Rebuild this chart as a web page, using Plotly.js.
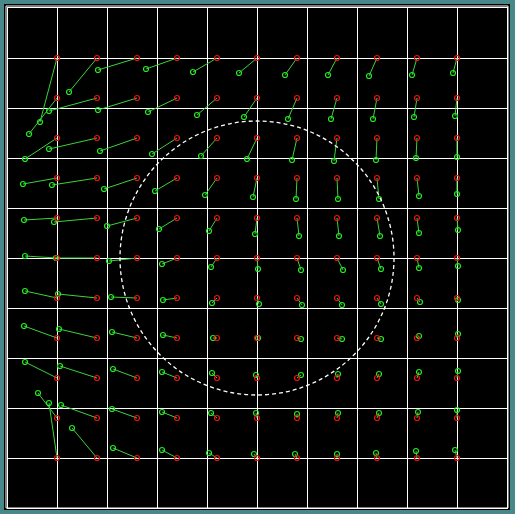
<!DOCTYPE html>
<html>
<head>
<meta charset="utf-8">
<script src="https://cdn.plot.ly/plotly-3.0.1.min.js"></script>
<style>
html,body{margin:0;padding:0;background:#488888;}
#chart{width:515px;height:514px;}
</style>
</head>
<body>
<div id="chart"></div>
<script>
// Grid of original points (red)
const gridX = [-1, -0.8, -0.6, -0.4, -0.2, 0, 0.2, 0.4, 0.6, 0.8, 1];
const gridY = [1, 0.8, 0.6, 0.4, 0.2, 0, -0.2, -0.4, -0.6, -0.8, -1];

// Displaced points (green), one row per gridY value, one column per gridX value
const dispX = [
  [-1.085, -0.94, -0.795, -0.555, -0.32, -0.09, 0.14, 0.355, 0.56, 0.775, 0.98],
  [-1.14, -1.04, -0.795, -0.545, -0.30, -0.065, 0.155, 0.37, 0.58, 0.785, 0.99],
  [-1.16, -1.04, -0.785, -0.525, -0.28, -0.05, 0.175, 0.385, 0.595, 0.795, 1.0],
  [-1.17, -1.025, -0.765, -0.51, -0.26, -0.02, 0.195, 0.405, 0.61, 0.81, 1.0],
  [-1.165, -1.015, -0.75, -0.49, -0.24, -0.01, 0.21, 0.41, 0.615, 0.81, 1.005],
  [-1.16, -1.005, -0.74, -0.475, -0.23, 0.005, 0.22, 0.43, 0.62, 0.81, 1.005],
  [-1.16, -0.995, -0.73, -0.47, -0.225, 0.01, 0.225, 0.425, 0.62, 0.815, 1.005],
  [-1.165, -0.99, -0.725, -0.47, -0.22, 0.005, 0.22, 0.425, 0.62, 0.81, 1.005],
  [-1.16, -0.985, -0.72, -0.475, -0.225, -0.005, 0.22, 0.405, 0.61, 0.81, 1.005],
  [-1.095, -0.98, -0.725, -0.475, -0.23, -0.005, 0.2, 0.405, 0.61, 0.805, 1.0],
  [-1.04, -0.925, -0.72, -0.475, -0.24, -0.015, 0.19, 0.4, 0.595, 0.795, 0.99]
];
const dispY = [
  [0.68, 0.83, 0.94, 0.945, 0.93, 0.925, 0.915, 0.915, 0.91, 0.915, 0.925],
  [0.62, 0.735, 0.74, 0.73, 0.715, 0.705, 0.695, 0.695, 0.695, 0.705, 0.71],
  [0.495, 0.545, 0.535, 0.52, 0.51, 0.495, 0.49, 0.485, 0.49, 0.5, 0.505],
  [0.37, 0.365, 0.345, 0.335, 0.315, 0.305, 0.295, 0.295, 0.295, 0.31, 0.32],
  [0.19, 0.18, 0.16, 0.145, 0.135, 0.12, 0.11, 0.11, 0.11, 0.125, 0.14],
  [0.01, 0.0, -0.015, -0.03, -0.045, -0.055, -0.06, -0.06, -0.055, -0.05, -0.04],
  [-0.165, -0.18, -0.195, -0.21, -0.225, -0.23, -0.235, -0.235, -0.23, -0.22, -0.21],
  [-0.34, -0.355, -0.37, -0.385, -0.4, -0.4, -0.405, -0.405, -0.405, -0.39, -0.38],
  [-0.52, -0.54, -0.555, -0.57, -0.575, -0.585, -0.585, -0.58, -0.58, -0.57, -0.565],
  [-0.675, -0.735, -0.755, -0.77, -0.775, -0.775, -0.78, -0.775, -0.775, -0.77, -0.76],
  [-0.725, -0.85, -0.95, -0.96, -0.975, -0.98, -0.98, -0.98, -0.975, -0.965, -0.96]
];
const circleRadius = 0.685;

const redXs = [], redYs = [], grnXs = [], grnYs = [], lnX = [], lnY = [];
for (let j = 0; j < gridY.length; j++) {
  for (let i = 0; i < gridX.length; i++) {
    redXs.push(gridX[i]); redYs.push(gridY[j]);
    grnXs.push(dispX[j][i]); grnYs.push(dispY[j][i]);
    lnX.push(gridX[i], dispX[j][i], null);
    lnY.push(gridY[j], dispY[j][i], null);
  }
}

const traces = [
  {x: lnX, y: lnY, mode: 'lines', type: 'scatter', line: {color: '#3ad33a', width: 1}, hoverinfo: 'skip'},
  {x: grnXs, y: grnYs, mode: 'markers', type: 'scatter',
   marker: {symbol: 'circle-open', size: 5, color: '#22ee22', line: {width: 1.2, color: '#22ee22'}}},
  {x: redXs, y: redYs, mode: 'markers', type: 'scatter',
   marker: {symbol: 'circle-open', size: 5, color: '#ee1111', line: {width: 1.2, color: '#ee1111'}}}
];

const axisCommon = {
  showgrid: true, gridcolor: '#ffffff', gridwidth: 1,
  zeroline: false, showticklabels: false, ticks: '',
  showline: true, linecolor: '#ffffff', linewidth: 1, mirror: true,
  dtick: 0.25, tick0: 0
};

const layout = {
  width: 515, height: 514,
  margin: {l: 8, r: 8, t: 8, b: 6, pad: 0},
  paper_bgcolor: '#488888',
  plot_bgcolor: '#000000',
  showlegend: false,
  xaxis: Object.assign({}, axisCommon, {range: [-1.245, 1.25]}),
  yaxis: Object.assign({}, axisCommon, {range: [-1.25, 1.25]}),
  shapes: [
    {type: 'rect', xref: 'paper', yref: 'paper', x0: -0.008, x1: 1.006, y0: -0.004, y1: 1.008,
     fillcolor: '#000000', line: {width: 0}, layer: 'below'},
    {type: 'rect', xref: 'paper', yref: 'paper', x0: -0.004, x1: 1.002, y0: 0, y1: 1.004,
     fillcolor: 'rgba(0,0,0,0)', line: {color: '#ffffff', width: 1}, layer: 'above'},
    {type: 'circle', xref: 'x', yref: 'y', x0: -circleRadius, x1: circleRadius, y0: -circleRadius, y1: circleRadius,
     line: {color: '#ffffff', width: 1.3, dash: '4px,3px'}, layer: 'above'}
  ]
};

Plotly.newPlot('chart', traces, layout, {displayModeBar: false, staticPlot: true});
</script>
</body>
</html>
